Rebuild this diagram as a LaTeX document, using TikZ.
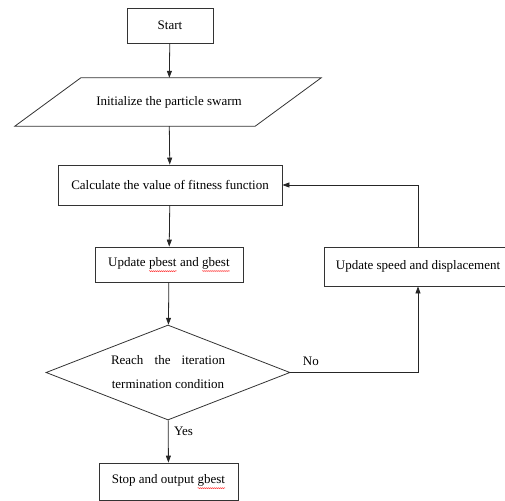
\documentclass[tikz,border=0pt]{standalone}
\usepackage{fontspec}
\setmainfont{Liberation Serif}
\usepackage{xcolor}
\usepackage{tikz}
\usetikzlibrary{calc, positioning, arrows.meta, shapes.geometric, decorations.pathmorphing}
\newcommand{\spellmark}[1]{\tikz[baseline=(w.base)]{\node[shape=rectangle, draw=none, inner sep=0pt, outer sep=0pt,
        minimum width=0pt, minimum height=0pt] (w) {#1};
    \draw[red, line width=0.35pt, decorate, decoration={snake, amplitude=0.5pt, segment length=2pt}]
        ([yshift=-2pt]w.south west) -- ([yshift=-2pt]w.south east);}}

\tikzset{
    flowbox/.style={draw=black!80, line width=0.8pt, rectangle, inner sep=0pt},
    decision/.style={draw=black!80, line width=0.8pt, diamond, aspect=2.57, inner sep=0pt, minimum width=244pt, minimum height=95pt},
    flowarrow/.style={draw=black!85, line width=0.8pt, -{Triangle[length=7pt, width=5pt]}}
}

\begin{document}
\begin{tikzpicture}[x=1pt, y=-1pt, font=\fontsize{13}{15}\selectfont]
    \clip (0,0) rectangle (505,500);

    % Main column
    \node[flowbox, minimum width=86pt, minimum height=35pt] (start) at (170,25.5) {Start};
    \node[minimum width=240pt, minimum height=48pt, inner sep=0pt] (init) at (169,102) {Initialize the particle swarm};
    \draw[black!80, line width=0.8pt] ([xshift=32pt]init.north west) -- ([xshift=32pt]init.north east)
        -- ([xshift=-34pt]init.south east) -- ([xshift=-34pt]init.south west) -- cycle;
    \node[flowbox, minimum width=224pt, minimum height=40pt] (calc) at (170,185) {Calculate the value of fitness function};
    \node[flowbox, minimum width=148pt, minimum height=35pt] (pbest) at (169,264.5) {Update \spellmark{pbest} and \spellmark{gbest}};
    \node[decision, font=\fontsize{13}{24}\selectfont, align=center] (cond) at (168,372.5)
        {\makebox[114pt][s]{Reach the iteration}\\termination condition};
    \node[flowbox, minimum width=139pt, minimum height=37pt] (stop) at (168.5,481.5) {Stop and output \spellmark{gbest}};

    % Loop back
    \node[flowbox, minimum width=188pt, minimum height=39pt] (speed) at (418,266.5) {Update speed and displacement};

    % Connectors
    \draw[flowarrow] (start) -- (init);
    \draw[flowarrow] (init) -- (calc);
    \draw[flowarrow] (calc) -- (pbest);
    \draw[flowarrow] (pbest) -- (cond);
    \draw[flowarrow] (cond) -- (stop) node[pos=0.25, right=2pt] {Yes};
    \draw[flowarrow] (cond.east) -| (speed.south) node[pos=0.08, above=3pt] {No};
    \draw[flowarrow] (speed.north) |- (calc.east);
\end{tikzpicture}
\end{document}
